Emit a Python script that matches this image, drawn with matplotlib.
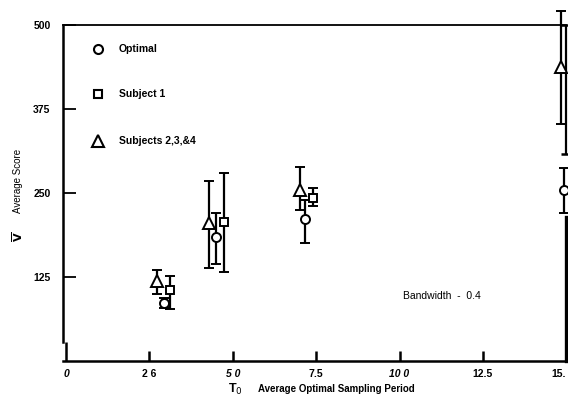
import matplotlib
matplotlib.use("Agg")
import matplotlib.pyplot as plt

plt.rcParams['font.family'] = ['Liberation Sans', 'DejaVu Sans']

# Optimal
opt_x = [2.93, 4.50, 7.17, 14.93]
opt_y = [86, 184, 212, 254]
opt_lo = [79, 145, 176, 220]
opt_hi = [94, 221, 240, 287]

# Subject 1
s1_x = [3.13, 4.74, 7.39]
s1_y = [105, 207, 242]
s1_lo = [78, 133, 230]
s1_hi = [126, 280, 257]
# subject 1 at T=15, marker hidden behind the frame
s1_edge_x = [15.0]
s1_edge_y = [400]
s1_edge_lo = [308]
s1_edge_hi = [500]

# Subjects 2,3,&4
s2_x = [2.74, 4.29, 7.02, 14.84]
s2_y = [119, 206, 254, 437]
s2_lo = [100, 139, 224, 353]
s2_hi = [135, 268, 288, 521]

xticks = [0, 2.5, 5.0, 7.5, 10.0, 12.5, 15.0]
xticklabels = ['0', '2 6', '5 0', '7.5', '10 0', '12.5', '15.']
yticks = [125, 250, 375, 500]
yticklabels = ['125', '250', '375', '500']


def errs(y, lo, hi):
    return [[a - b for a, b in zip(y, lo)], [b - a for a, b in zip(y, hi)]]


fig = plt.figure(figsize=(5.68, 4.05), dpi=100)
ax = fig.add_axes([0.111, 0.1086, 0.886, 0.8296])

kw = dict(color='black', ecolor='black', elinewidth=1.6, capsize=3.6,
          capthick=1.8, mfc='white', mec='black', mew=1.4, clip_on=False,
          linestyle='none', zorder=3)
ax.errorbar(s1_edge_x, s1_edge_y, yerr=errs(s1_edge_y, s1_edge_lo, s1_edge_hi),
            fmt='none', ecolor='black', elinewidth=1.6, capsize=3.6,
            capthick=1.8, clip_on=False)
ax.errorbar(s2_x, s2_y, yerr=errs(s2_y, s2_lo, s2_hi), marker='^', ms=8, **kw)
ax.errorbar(opt_x, opt_y, yerr=errs(opt_y, opt_lo, opt_hi), marker='o', ms=6.5, **kw)
ax.errorbar(s1_x, s1_y, yerr=errs(s1_y, s1_lo, s1_hi), marker='s', ms=5.5, **kw)

ax.set_xlim(-0.09, 15.0)
ax.set_ylim(0, 500)

for s in ['top', 'left', 'bottom', 'right']:
    ax.spines[s].set_color('black')
ax.spines['top'].set_linewidth(1.3)
ax.spines['left'].set_linewidth(1.8)
ax.spines['left'].set_bounds(28, 500)
ax.spines['bottom'].set_linewidth(1.8)
ax.spines['right'].set_linewidth(2.4)
ax.spines['right'].set_bounds(0, 214)

ax.set_xticks(xticks)
ax.set_xticklabels(xticklabels, fontsize=7.5, fontweight='bold')
for lab in ax.get_xticklabels():
    if lab.get_text() in ('0', '5 0', '10 0'):
        lab.set_fontstyle('italic')
    if lab.get_text() == '15.':
        lab.set_horizontalalignment('right')
ax.tick_params(axis='x', direction='in', length=7, width=1.8, pad=6)
ax.xaxis.get_major_ticks()[0].tick1line.set_markersize(14)

ax.set_yticks(yticks)
ax.set_yticklabels(yticklabels, fontsize=7.5, fontweight='bold')
ax.tick_params(axis='y', direction='in', length=9, width=1.3, pad=9)

# legend
leg_y = [0.929, 0.795, 0.655]
leg_m = [('o', 6.5), ('s', 5.5), ('^', 8)]
leg_t = ['Optimal', 'Subject 1', 'Subjects 2,3,&4']
for yy, (m, sz), t in zip(leg_y, leg_m, leg_t):
    ax.plot([0.0696], [yy], marker=m, ms=sz, mfc='white', mec='black', mew=1.5,
            transform=ax.transAxes, linestyle='none', clip_on=False)
    ax.text(0.111, yy, t, transform=ax.transAxes, fontsize=7.5,
            fontweight='bold', va='center', ha='left')

ax.text(10.11, 97, 'Bandwidth  -  0.4', fontsize=7.5, va='center', ha='left')

fig.text(235 / 568, 1 - 389 / 405, 'T$_0$', fontsize=9, fontweight='bold',
         ha='center', va='center')
fig.text(258 / 568, 1 - 389 / 405, 'Average Optimal Sampling Period',
         fontsize=7, fontweight='bold', ha='left', va='center')
fig.text(18 / 568, 1 - 181 / 405, 'Average Score', fontsize=7,
         rotation=90, ha='center', va='center')
fig.text(18 / 568, 1 - 237 / 405, r'$\overline{\mathbf{V}}$', fontsize=8,
         rotation=90, ha='center', va='center')

fig.savefig('out.png', dpi=100)
